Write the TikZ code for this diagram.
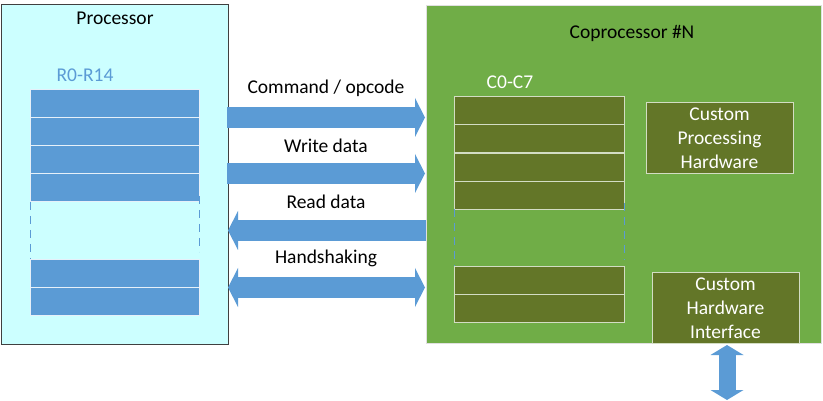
\documentclass[tikz,border=0pt]{standalone}
\usepackage{fontspec}
\setmainfont{Carlito}
\usetikzlibrary{arrows.meta}
\definecolor{procfill}{HTML}{CCFFFF}
\definecolor{regblue}{HTML}{5B9BD5}
\definecolor{copgreen}{HTML}{70AD47}
\definecolor{olive}{HTML}{637628}
\definecolor{oliveedge}{HTML}{D3DDC4}
\begin{document}
\begin{tikzpicture}[x=1pt,y=-1pt,
  every node/.style={font=\fontsize{19.5}{24}\selectfont, inner sep=0pt},
  procbox/.style={draw=black!75, line width=1pt, fill=procfill, anchor=north west, minimum width=227pt, minimum height=340pt},
  copbox/.style={draw=black!12, line width=1pt, fill=copgreen, anchor=north west, minimum width=395pt, minimum height=338pt},
  preg/.style={draw=white!85!regblue, line width=1pt, fill=regblue, anchor=north west, minimum width=169pt, minimum height=28pt},
  creg/.style={draw=oliveedge, line width=1pt, fill=olive, anchor=north west, minimum width=170pt, minimum height=28pt},
  hwbox/.style={draw=oliveedge, line width=1pt, fill=olive, text=white, align=center, minimum width=147pt},
  gap/.style={draw=regblue, line width=1pt, dash pattern=on 8pt off 6pt},
  fat/.style={draw=regblue, line width=21pt},
  tipA/.tip={Triangle[length=10pt,width=39pt,line width=0pt]},
  tipB/.tip={Triangle[length=10pt,width=33pt,line width=0pt]}
]
\useasboundingbox (0,0) rectangle (823,401);
% Processor
\node[procbox] (proc) at (1,4) {};
\node (proct) at (115,18) {Processor};
\node[text=regblue] (rlab) at (85,75) {R0-R14};
\node[preg] (p1) at (30,89.5) {};
\node[preg] (p2) at (30,117.5) {};
\node[preg] (p3) at (30,145.5) {};
\node[preg] (p4) at (30,173.5) {};
\node[preg] (p5) at (30,259) {};
\node[preg] (p6) at (30,287) {};
\draw[gap] (30,202) -- (30,259);
\draw[gap] (199,196) -- (199,252);
% Coprocessor
\node[copbox] (cop) at (426,5) {};
\node (copt) at (632,33) {Coprocessor \#N};
\node[text=white] (clab) at (510,82) {C0-C7};
\node[creg] (c1) at (454,96) {};
\node[creg] (c2) at (454,124.5) {};
\node[creg] (c3) at (454,153) {};
\node[creg] (c4) at (454,181) {};
\node[creg] (c5) at (454,266) {};
\node[creg] (c6) at (454,294) {};
\draw[gap] (454,209) -- (454,266);
\draw[gap] (624,203) -- (624,260);
\node[hwbox, minimum height=71pt] (cph) at (719.5,138.5) {Custom\\Processing\\Hardware};
\node[hwbox, minimum height=70pt] (chi) at (725.5,308) {Custom\\Hardware\\Interface};
% Arrows
\coordinate (a1s) at (227,117.5); \coordinate (a1e) at (425,117.5);
\coordinate (a2s) at (227,173.5); \coordinate (a2e) at (425,173.5);
\coordinate (a3s) at (426,230.5); \coordinate (a3e) at (228,230.5);
\coordinate (a4s) at (228,287.5); \coordinate (a4e) at (425,287.5);
\draw[fat, -tipA] (a1s) -- (a1e);
\draw[fat, -tipA] (a2s) -- (a2e);
\draw[fat, -tipA] (a3s) -- (a3e);
\draw[fat, tipA-tipA] (a4s) -- (a4e);
\node (l1) at (326,88) {Command / opcode};
\node (l2) at (326,146) {Write data};
\node (l3) at (326,202) {Read data};
\node (l4) at (326,258) {Handshaking};
\coordinate (v1) at (727,345); \coordinate (v2) at (727,400);
\draw[draw=regblue, line width=17pt, tipB-tipB] (v1) -- (v2);
\end{tikzpicture}
\end{document}
